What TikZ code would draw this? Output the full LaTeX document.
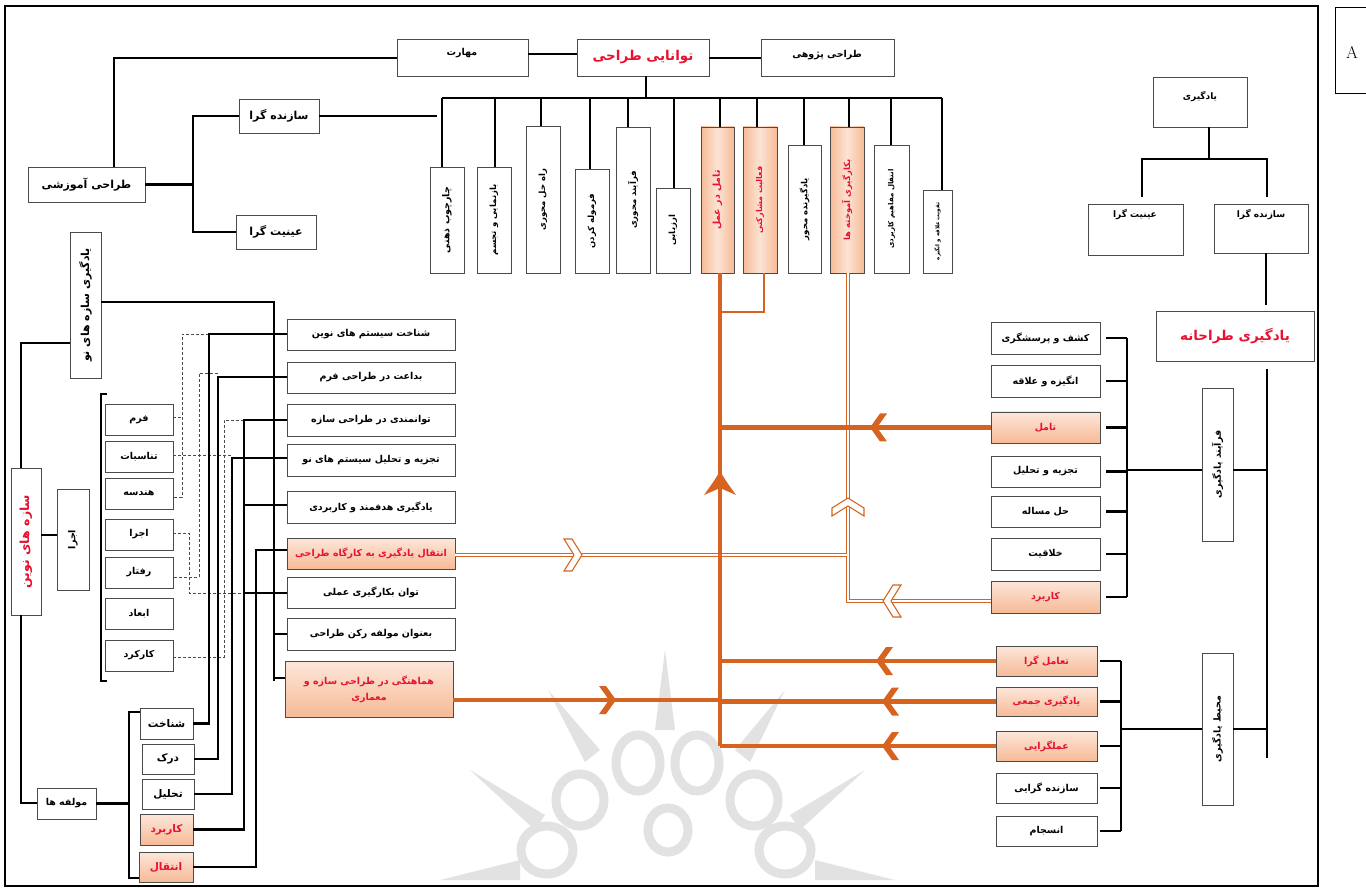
\documentclass[tikz,border=0pt]{standalone}
\usepackage{fontspec}
\newfontfamily\arabicfont[Script=Arabic]{DejaVu Sans}
\TeXXeTstate=1
\newcommand\fa[1]{{\arabicfont\bfseries\beginR #1\endR}}
\definecolor{org}{RGB}{214,100,32}
\definecolor{peach}{RGB}{247,186,150}
\definecolor{rd}{RGB}{232,18,48}
\definecolor{bd}{RGB}{75,75,75}
\definecolor{wm}{RGB}{226,226,226}
\newcommand\bx[7]{\node[#6, minimum width={(#4)-(#2)}, minimum height={(#5)-(#3)}] (#1) at ({((#2)+(#4))/2},{((#3)+(#5))/2}) {#7};}
\begin{document}
\begin{tikzpicture}[x=1pt,y=-1pt,
 box/.style={draw=bd, line width=0.9pt, fill=white, inner sep=0pt, font=\fontsize{9.5}{11}\selectfont, align=center},
 obox/.style={box, top color=peach!35!white, bottom color=peach, text=rd},
 vobox/.style={box, left color=peach, right color=peach, middle color=peach!40!white},
 vt/.style={rotate=90, font=\fontsize{8.5}{10}\selectfont, inner sep=0pt},
 con/.style={line width=2.7pt},
 dsh/.style={draw=bd, line width=0.9pt, dash pattern=on 3pt off 2pt},
 ocon/.style={draw=org, line width=4.8pt},
 dcon/.style={draw=org, line width=1.1pt, double=white, double distance=2.2pt},
 wmk/.style={draw=wm, line width=9pt},
 chevf/.pic={\fill[org] (-7,-14) -- (3,0) -- (-7,14) -- (0,14) -- (10,0) -- (0,-14) -- cycle;},
 chevo/.pic={\filldraw[fill=white, draw=org, line width=1.1pt] (-8,-16) -- (2,0) -- (-8,16) -- (0,16) -- (10,0) -- (0,-16) -- cycle;},
 chevbig/.pic={\fill[org] (13,0) .. controls (4,-5) and (-4,-11) .. (-11,-16) -- (-4,0) -- (-11,16) .. controls (-4,11) and (4,5) .. (13,0) -- cycle;}
]
\useasboundingbox (0,0) rectangle (1366,890);
\fill[white] (0,0) rectangle (1366,890);

% ---------- faint watermark ----------
\begin{scope}
\clip (6,7) rectangle (1317,885);
\draw[wmk] (638,763) ellipse [x radius=22, y radius=28];
\draw[wmk] (697,763) ellipse [x radius=22, y radius=28];
\draw[wmk] (580,800) ellipse [x radius=24, y radius=26];
\draw[wmk] (754,800) ellipse [x radius=24, y radius=26];
\draw[wmk] (547,850) ellipse [x radius=26, y radius=24];
\draw[wmk] (785,850) ellipse [x radius=26, y radius=24];
\draw[wmk] (668,830) ellipse [x radius=20, y radius=22];
\fill[wm] (665,650) -- (675,730) -- (655,730) -- cycle;
\fill[wm] (548,690) -- (600,750) -- (585,762) -- cycle;
\fill[wm] (785,690) -- (735,750) -- (750,762) -- cycle;
\fill[wm] (470,770) -- (545,815) -- (535,830) -- cycle;
\fill[wm] (865,770) -- (790,815) -- (800,830) -- cycle;
\fill[wm] (440,880) -- (520,860) -- (520,880) -- cycle;
\fill[wm] (895,880) -- (815,860) -- (815,880) -- cycle;
\end{scope}

\draw[line width=2pt] (5,6) rectangle (1318,886);
\node[draw, line width=0.9pt, anchor=north west, minimum width=45, minimum height=86, inner sep=0pt] (Abox) at (1335,7) {};
\node[font=\fontsize{17}{17}\selectfont] (Atxt) at (1352,52) {A};

% ---------- top row ----------
\bx{mah}{397}{39}{528}{76}{box}{}
\node[font=\fontsize{9.5}{12}\selectfont] (maht) at (462,53) {\fa{مهارت}};
\bx{tav}{577}{39}{709}{76}{box, text=rd, font=\fontsize{13.5}{16}\selectfont}{\fa{توانایی طراحی}}
\bx{pzh}{761}{39}{894}{76}{box}{}
\node[font=\fontsize{9.5}{12}\selectfont] (pzht) at (827,55) {\fa{طراحی پژوهی}};
\draw[con] (mah.east |- 0,54) -- (tav.west |- 0,54);
\draw[con] (tav.east |- 0,58) -- (pzh.west |- 0,58);

\bx{tam}{28}{167}{145}{202}{box, font=\fontsize{11}{13}\selectfont}{\fa{طراحی آموزشی}}
\draw[con] (mah.west |- 0,58) -- (114,58) -- (114,0 |- tam.north);
\bx{sazg}{239}{99}{319}{133}{box, font=\fontsize{11}{13}\selectfont}{\fa{سازنده گرا}}
\bx{einig}{236}{215}{316}{249}{box, font=\fontsize{11}{13}\selectfont}{\fa{عینیت گرا}}
\draw[con] (tam.east) -- (193,0 |- tam.east);
\draw[con] (sazg.west) -| (193,0 |- einig.west) -- (einig.west);
\draw[con] (sazg.east) -- (437,0 |- sazg.east);

\draw[con] (646,0 |- tav.south) -- (646,98);
\draw[con] (442,98) -- (942,98);
\foreach \n/\a/\b/\t/\lx/\s/\c/\fs/\txt in {
 1/430/464/167/442/box/black/9.5/{چارچوب ذهنی},
 2/477/511/167/495/box/black/8.5/{بازنمایی و تجسم},
 3/526/560/126/541/box/black/8.5/{راه حل محوری},
 4/575/609/169/590/box/black/8.5/{فرموله کردن},
 5/616/650/127/628/box/black/8.5/{فرآیند محوری},
 6/656/690/188/674/box/black/8.5/{ارزیابی},
 7/701/734/127/720/vobox/rd/9.5/{تامل در عمل},
 8/743/777/127/757/vobox/rd/8/{فعالیت مشارکتی},
 9/788/821/145/804/box/black/8.5/{یادگیرنده محور},
 10/830/864/127/849/vobox/rd/8.5/{بکارگیری آموخته ها},
 11/874/909/145/891/box/black/7/{انتقال مفاهیم کاربردی}}
{
 \bx{v\n}{\a}{\t}{\b}{273}{\s}{}
 \node[vt, text=\c, font=\fontsize{\fs}{10}\selectfont] (vt\n) at (v\n) {\fa{\txt}};
 \draw[con] (\lx,98) -- (\lx,0 |- v\n.north);
}
\bx{v12}{923}{190}{952}{273}{box}{}
\node[vt, font=\fontsize{5.5}{7}\selectfont] (vt12) at (v12) {\fa{تقویت علاقه و انگیزه}};
\draw[con] (942,98) -- (942,0 |- v12.north);

% ---------- right top ----------
\bx{yad}{1153}{77}{1247}{127}{box}{}
\node[font=\fontsize{9}{11}\selectfont] (yadt) at (1200,97) {\fa{یادگیری}};
\draw[con] (1209,0 |- yad.south) -- (1209,159);
\draw[con] (1142,197) -- (1142,159) -- (1267,159) -- (1267,197);
\bx{einr}{1088}{204}{1183}{255}{box}{}
\node[font=\fontsize{9}{11}\selectfont] (einrt) at (1135,215) {\fa{عینیت گرا}};
\bx{sazr}{1214}{204}{1308}{253}{box}{}
\node[font=\fontsize{9}{11}\selectfont] (sazrt) at (1261,215) {\fa{سازنده گرا}};
\draw[con] (1266,0 |- sazr.south) -- (1266,305);
\bx{ydt}{1156}{311}{1314}{361}{box, text=rd, font=\fontsize{13.5}{16}\selectfont}{\fa{یادگیری طراحانه}}
\draw[con] (1267,369) -- (1267,758);
\bx{fry}{1202}{388}{1233}{541}{box}{}
\node[vt, font=\fontsize{9.5}{11}\selectfont] (fryt) at (fry) {\fa{فرآیند یادگیری}};
\draw[con] (1127,470) -- (fry.west |- 0,470);
\draw[con] (fry.east |- 0,470) -- (1267,470);
\bx{mhy}{1202}{653}{1233}{805}{box}{}
\node[vt, font=\fontsize{9.5}{11}\selectfont] (mhyt) at (mhy) {\fa{محیط یادگیری}};
\draw[con] (1121,729) -- (mhy.west |- 0,729);
\draw[con] (mhy.east |- 0,729) -- (1267,729);

\foreach \i/\t/\b/\s/\txt in {
 1/322/354/box/{کشف و پرسشگری},
 2/365/397/box/{انگیزه و علاقه},
 3/412/443/obox/{تامل},
 4/456/487/box/{تجزیه و تحلیل},
 5/496/527/box/{حل مساله},
 6/538/570/box/{خلاقیت},
 7/581/613/obox/{کاربرد}}
{
 \bx{r\i}{991}{\t}{1100}{\b}{\s}{\fa{\txt}}
 \draw[con] ([xshift=6pt]r\i.east) -- (1127,0 |- r\i.east);
}
\draw[con] (1127,0 |- r1.east) -- (1127,0 |- r7.east);

\foreach \i/\t/\b/\s/\txt in {
 1/646/676/obox/{تعامل گرا},
 2/687/716/obox/{یادگیری جمعی},
 3/731/761/obox/{عملگرایی},
 4/773/803/box/{سازنده گرایی},
 5/816/846/box/{انسجام}}
{
 \bx{m\i}{996}{\t}{1097}{\b}{\s}{\fa{\txt}}
 \draw[con] ([xshift=3pt]m\i.east) -- (1121,0 |- m\i.east);
}
\draw[con] (1121,0 |- m1.east) -- (1121,0 |- m5.east);

% ---------- left ----------
\bx{ysn}{70}{232}{101}{378}{box}{}
\node[vt, font=\fontsize{11}{12}\selectfont] (ysnt) at (ysn) {\fa{یادگیری سازه های نو}};
\bx{snv}{11}{468}{41}{615}{box}{}
\node[vt, text=rd, font=\fontsize{12.5}{14}\selectfont] (snvt) at (snv) {\fa{سازه های نوین}};
\bx{ejv}{57}{489}{89}{590}{box}{}
\node[vt, font=\fontsize{9.5}{10}\selectfont] (ejvt) at (ejv) {\fa{اجرا}};
\bx{mol}{37}{788}{96}{819}{box}{\fa{مولفه ها}}
\draw[con] (ysn.west |- 0,343) -- (21,343) -- (21,0 |- snv.north);
\draw[con] (snv.east |- 0,535) -- (ejv.west |- 0,535);
\draw[con] (21,0 |- snv.south) -- (21,803) -- (mol.west |- 0,803);
\draw[con] (mol.east) -- (129,0 |- mol.east);
\draw[con] (140,712) -- (129,712) -- (129,878) -- (140,878);

\foreach \i/\a/\t/\b/\bb/\s/\txt in {
 1/140/708/193/739/box/{شناخت},
 2/142/744/194/774/box/{درک},
 3/142/779/194/809/box/{تحلیل},
 4/140/814/193/845/obox/{کاربرد},
 5/139/852/193/882/obox/{انتقال}}
{
 \bx{k\i}{\a}{\t}{\b}{\bb}{\s, font=\fontsize{10.5}{12}\selectfont}{\fa{\txt}}
}

\foreach \i/\t/\b/\s/\txt in {
 1/319/350/box/{شناخت سیستم های نوین},
 2/362/393/box/{بداعت در طراحی فرم},
 3/404/436/box/{توانمندی در طراحی سازه},
 4/444/476/box/{تجزیه و تحلیل سیستم های نو},
 5/491/523/box/{یادگیری هدفمند و کاربردی},
 6/538/569/obox/{انتقال یادگیری به کارگاه طراحی},
 7/577/608/box/{توان بکارگیری عملی},
 8/618/650/box/{بعنوان مولفه رکن طراحی}}
{
 \bx{c\i}{287}{\t}{455}{\b}{\s}{\fa{\txt}}
}
\bx{c9}{285}{661}{453}{717}{obox}{\fa{هماهنگی در طراحی سازه و}\\[5pt]\fa{معماری}}

\foreach \i/\t/\b/\txt in {
 1/404/435/{فرم},
 2/441/472/{تناسبات},
 3/478/509/{هندسه},
 4/519/550/{اجرا},
 5/557/588/{رفتار},
 6/598/629/{ابعاد},
 7/640/671/{کارکرد}}
{
 \bx{f\i}{105}{\t}{173}{\b}{box}{\fa{\txt}}
}
\draw[con] (107,394) -- (101,394) -- (101,681) -- (107,681);

% dashed links
\draw[dsh] (209,334) -- (182,334) -- (182,497) -- (f3.east |- 0,497);
\draw[dsh] (f1.east |- 0,417) -- (182,417);
\draw[dsh] (f2.east |- 0,455) -- (232,455);
\draw[dsh] (218,373) -- (199,373) -- (199,577) -- (f5.east |- 0,577);
\draw[dsh] (244,420) -- (224,420) -- (224,657) -- (f7.east |- 0,657);
\draw[dsh] (f4.east |- 0,533) -- (189,533) -- (189,593) -- (244,593);

% solid links
\draw[con] (k1.east) -- (209,0 |- k1.east) -- (209,334) -- (c1.west |- 0,334);
\draw[con] (k2.east) -- (218,0 |- k2.east) -- (218,377) -- (c2.west |- 0,377);
\draw[con] (k3.east) -- (232,0 |- k3.east) -- (232,458) -- (c4.west |- 0,458);
\draw[con] (k4.east) -- (244,0 |- k4.east) -- (244,420) -- (c3.west |- 0,420);
\draw[con] (k5.east) -- (256,0 |- k5.east) -- (256,550) -- (c6.west |- 0,550);
\draw[con] (244,505) -- (c5.west |- 0,505);
\draw[con] (244,593) -- (c7.west |- 0,593);
\draw[con] (ysn.east |- 0,302) -- (274,302) -- (274,681);
\draw[con] (274,634) -- (c8.west |- 0,634);
\draw[con] (274,678) -- (c9.west |- 0,678);

% ---------- orange flows ----------
\draw[dcon] (848,0 |- v10.south) -- (848,601) -- (r7.west |- 0,601);
\draw[dcon] (c6.east |- 0,555) -- (846.5,555);
\draw[draw=org, line width=2.6pt] (764,0 |- v8.south) -- (764,312) -- (720,312);
\draw[ocon] (720,0 |- v7.south) -- (720,746);
\draw[ocon] (720,0 |- r3.west) -- (r3.west);
\draw[ocon] (720,0 |- m1.west) -- (m1.west);
\draw[ocon] (720,0 |- m2.west) -- (m2.west);
\draw[ocon] (720,746) -- (m3.west |- 0,746);
\draw[ocon] (c9.east |- 0,700) -- (720,700);

\pic[rotate=180] at (880,0 |- r3.west) {chevf};
\pic[rotate=180] at (886,0 |- m1.west) {chevf};
\pic[rotate=180] at (892,0 |- m2.west) {chevf};
\pic[rotate=180] at (892,746) {chevf};
\pic at (606,700) {chevf};
\pic[rotate=90] at (720,484) {chevbig};
\pic at (572,555) {chevo};
\pic[rotate=90] at (848,508) {chevo};
\pic[rotate=180] at (893,601) {chevo};
\end{tikzpicture}
\end{document}
